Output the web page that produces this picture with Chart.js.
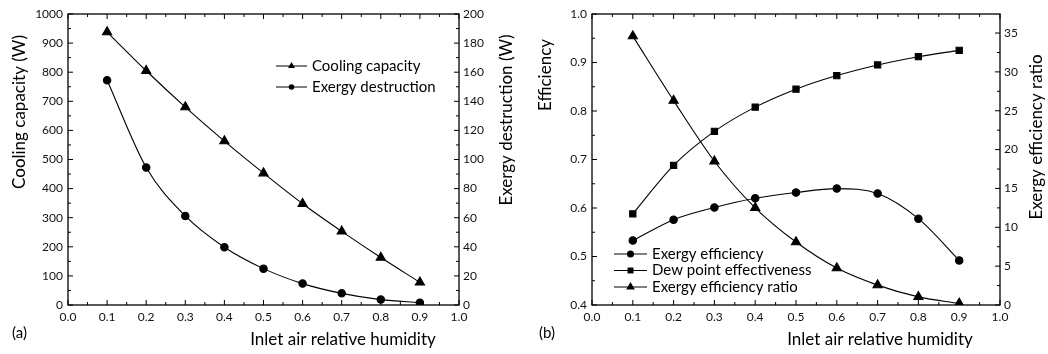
<!DOCTYPE html>
<html>
<head>
<meta charset="utf-8">
<script src="https://cdn.jsdelivr.net/npm/chart.js@4.4.0/dist/chart.umd.min.js"></script>
<style>
body { margin: 0; background: #fff; width: 1048px; height: 354px; overflow: hidden; }
.box { position: absolute; top: 0; width: 524px; height: 354px; }
</style>
</head>
<body>
<div class="box" style="left:0"><canvas id="chartA"></canvas></div>
<div class="box" style="left:524px"><canvas id="chartB"></canvas></div>
<script>
// inlet air relative humidity
var humidity = [0.1, 0.2, 0.3, 0.4, 0.5, 0.6, 0.7, 0.8, 0.9];

// (a)
var coolingCapacity = [938, 805, 680, 563, 453, 348, 253, 163, 78];
var exergyDestruction = [154.4, 94.5, 61.2, 39.7, 25, 14.7, 8, 3.7, 1.6];

// (b)
var exergyEfficiency = [0.533, 0.576, 0.601, 0.620, 0.632, 0.640, 0.630, 0.578, 0.492];
var dewPointEffectiveness = [0.588, 0.688, 0.758, 0.808, 0.845, 0.873, 0.895, 0.912, 0.925];
var exergyEfficiencyRatio = [34.6, 26.3, 18.5, 12.5, 8.1, 4.75, 2.56, 1.05, 0.2];

var FONT = 'Lato';

function pts(ys) {
    return humidity.map(function(x, i) { return { x: x, y: ys[i] }; });
}

function serie(label, ys, style, radius, axis) {
    return {
        label: label,
        data: pts(ys),
        yAxisID: axis,
        borderColor: '#000',
        backgroundColor: '#000',
        borderWidth: 1.1,
        pointStyle: style,
        pointRadius: radius,
        pointHoverRadius: radius,
        cubicInterpolationMode: 'monotone',
        fill: false
    };
}

// ticks vers l'interieur + cadre + textes + legende
var decor = {
    id: 'decor',
    afterDraw: function(chart, args, o) {
        var ctx = chart.ctx, a = chart.chartArea;
        var sx = chart.scales.x, sy = chart.scales.y, sy1 = chart.scales.y1;
        ctx.save();
        ctx.strokeStyle = '#000';
        ctx.lineWidth = 1.3;
        ctx.strokeRect(a.left, a.top, a.right - a.left, a.bottom - a.top);

        function marks(scale, minor, major, draw) {
            var n = Math.round((scale.max - scale.min) / minor);
            for (var i = 0; i <= n + 1; i++) {
                var v = scale.min + i * minor;
                if (v > scale.max + 1e-9) break;
                var isMajor = Math.abs(v / major - Math.round(v / major)) < 1e-6;
                draw(scale.getPixelForValue(v), isMajor ? 5 : 3);
            }
        }
        ctx.lineWidth = 1;
        ctx.beginPath();
        marks(sx, o.xMinor, o.xMajor, function(p, l) {
            ctx.moveTo(p, a.bottom); ctx.lineTo(p, a.bottom - l);
            ctx.moveTo(p, a.top); ctx.lineTo(p, a.top + l);
        });
        marks(sy, o.yMinor, o.yMajor, function(p, l) {
            ctx.moveTo(a.left, p); ctx.lineTo(a.left + l, p);
        });
        marks(sy1, o.y1Minor, o.y1Major, function(p, l) {
            ctx.moveTo(a.right, p); ctx.lineTo(a.right - l, p);
        });
        ctx.stroke();

        ctx.fillStyle = '#000';
        ctx.textBaseline = 'middle';
        o.texts.forEach(function(t) {
            ctx.save();
            ctx.font = t.size + 'px ' + FONT;
            ctx.textAlign = t.align || 'center';
            ctx.translate(t.x, t.y);
            if (t.rot) ctx.rotate(t.rot);
            ctx.fillText(t.text, 0, 0);
            ctx.restore();
        });

        var lg = o.legend;
        ctx.font = lg.size + 'px ' + FONT;
        ctx.textAlign = 'left';
        chart.data.datasets.forEach(function(ds, i) {
            var y = lg.y + i * lg.gap;
            ctx.beginPath();
            ctx.moveTo(lg.x, y); ctx.lineTo(lg.x + lg.len, y);
            ctx.stroke();
            Chart.helpers.drawPoint(ctx, { pointStyle: ds.pointStyle, radius: ds.pointRadius * lg.scale, rotation: 0, borderWidth: 0 }, lg.x + lg.len / 2, y);
            ctx.fillText(ds.label, lg.x + lg.len + 5, y);
        });
        ctx.restore();
    }
};

function makeChart(id, datasets, sc, extra) {
    var tickFont = { family: FONT, size: 12 };
    return new Chart(document.getElementById(id), {
        type: 'line',
        data: { datasets: datasets },
        options: {
            responsive: true,
            maintainAspectRatio: false,
            animation: false,
            layout: { padding: { top: 14, left: 0, right: 0, bottom: 0 } },
            plugins: { legend: { display: false }, tooltip: { enabled: false }, decor: extra },
            scales: {
                x: {
                    type: 'linear', min: 0, max: 1,
                    grid: { display: false, drawTicks: false },
                    border: { display: false },
                    ticks: { stepSize: 0.1, padding: 5, color: '#111', font: tickFont, maxRotation: 0,
                        callback: function(v) { return v.toFixed(1); } },
                    afterFit: function(s) { s.height = 49; }
                },
                y: {
                    position: 'left', min: sc.yMin, max: sc.yMax,
                    grid: { display: false, drawTicks: false },
                    border: { display: false },
                    ticks: { stepSize: sc.yStep, padding: 5, color: '#111', font: tickFont, includeBounds: false,
                        callback: sc.yFmt },
                    afterFit: function(s) { s.width = 68; }
                },
                y1: {
                    position: 'right', min: 0, max: sc.y1Max,
                    grid: { display: false, drawTicks: false },
                    border: { display: false },
                    ticks: { stepSize: sc.y1Step, padding: 4, color: '#111', font: tickFont, includeBounds: false,
                        callback: function(v) { return Math.round(v); } },
                    afterFit: function(s) { s.width = sc.y1Width; }
                }
            }
        },
        plugins: [decor]
    });
}

makeChart('chartA', [
    serie('Cooling capacity', coolingCapacity, 'triangle', 5.3, 'y'),
    serie('Exergy destruction', exergyDestruction, 'circle', 3.7, 'y1')
], {
    yMin: 0, yMax: 1000, yStep: 100, yFmt: function(v) { return Math.round(v); },
    y1Max: 200, y1Step: 20, y1Width: 65
}, {
    xMinor: 0.05, xMajor: 0.1, yMinor: 50, yMajor: 100, y1Minor: 10, y1Major: 20,
    legend: { x: 276, y: 66, gap: 21, len: 31, size: 15, scale: 0.75 },
    texts: [
        { text: 'Cooling capacity (W)', x: 20, y: 112, rot: -Math.PI / 2, size: 17 },
        { text: 'Exergy destruction (W)', x: 507, y: 120, rot: -Math.PI / 2, size: 17 },
        { text: 'Inlet air relative humidity', x: 343, y: 340, size: 17 },
        { text: '(a)', x: 12, y: 333, size: 15, align: 'left' }
    ]
});

makeChart('chartB', [
    serie('Exergy efficiency', exergyEfficiency, 'circle', 3.7, 'y'),
    serie('Dew point effectiveness', dewPointEffectiveness, 'rect', 4.4, 'y'),
    serie('Exergy efficiency ratio', exergyEfficiencyRatio, 'triangle', 5.3, 'y1')
], {
    yMin: 0.4, yMax: 1.0, yStep: 0.1, yFmt: function(v) { return v.toFixed(1); },
    y1Max: 37.45, y1Step: 5, y1Width: 48
}, {
    xMinor: 0.05, xMajor: 0.1, yMinor: 0.05, yMajor: 0.1, y1Minor: 2.5, y1Major: 5,
    legend: { x: 90, y: 254, gap: 16.5, len: 33, size: 15, scale: 0.95 },
    texts: [
        { text: 'Efficiency', x: 22, y: 75, rot: -Math.PI / 2, size: 17 },
        { text: 'Exergy efficiency ratio', x: 513, y: 137, rot: -Math.PI / 2, size: 17 },
        { text: 'Inlet air relative humidity', x: 356, y: 340, size: 17 },
        { text: '(b)', x: 15, y: 333, size: 15, align: 'left' }
    ]
});
</script>
</body>
</html>
